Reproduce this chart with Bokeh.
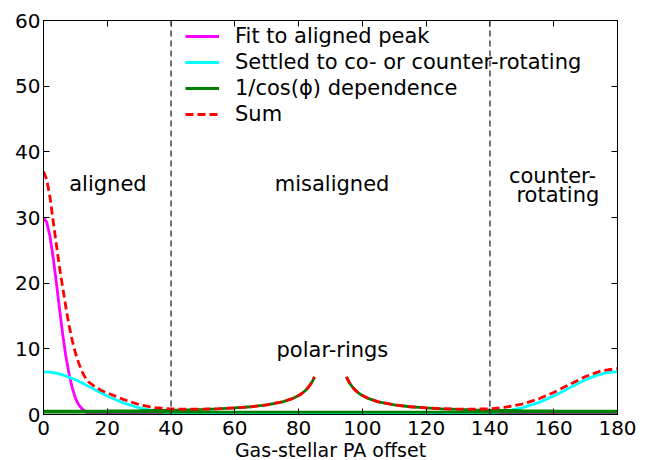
from bokeh.plotting import figure
from bokeh.models import (Range1d, LinearAxis, Span, Label, Legend, LegendItem,
                          FixedTicker)
from bokeh.embed import file_html
from bokeh.resources import INLINE

# ---- data ----
x_ticks = [0, 20, 40, 60, 80, 100, 120, 140, 160, 180]
y_ticks = [0, 10, 20, 30, 40, 50, 60]
region_bounds = [40, 140]

mag_x = [0, 1, 2, 3, 4, 5, 6, 7, 8, 9, 10, 11, 12, 13, 14, 15, 16, 18, 20, 180]
mag_y = [30.0, 29.3, 27.2, 24.0, 20.2, 16.2, 12.3, 8.9, 6.2, 4.1, 2.5, 1.5, 0.9,
         0.5, 0.2, 0.1, 0.05, 0.01, 0.0, 0.0]

cyan_x = [0, 2, 4, 6, 8, 10, 12, 14, 16, 18, 20, 25, 30, 35, 40, 45, 50, 55, 60,
          120, 125, 130, 135, 140, 145, 150, 155, 160, 162, 164, 166, 168, 170,
          172, 174, 176, 178, 180]
cyan_y = [6.5, 6.45, 6.29, 6.03, 5.69, 5.28, 4.82, 4.32, 3.81, 3.31, 2.83, 1.77,
          1.0, 0.51, 0.23, 0.1, 0.04, 0.01, 0.0,
          0.0, 0.01, 0.04, 0.1, 0.23, 0.51, 1.0, 1.77, 2.83, 3.31, 3.81, 4.32,
          4.82, 5.28, 5.69, 6.03, 6.29, 6.45, 6.5]

cos_x1 = [0, 10, 20, 30, 40, 45, 50, 55, 60, 65, 70, 75, 78, 80, 81, 82, 83, 84,
          84.5, 85]
cos_y1 = [0.5, 0.51, 0.53, 0.58, 0.65, 0.71, 0.78, 0.87, 1.0, 1.18, 1.46, 1.93,
          2.41, 2.88, 3.20, 3.59, 4.11, 4.78, 5.22, 5.74]
cos_x2 = [95, 95.5, 96, 97, 98, 99, 100, 102, 105, 110, 115, 120, 125, 130, 135,
          140, 150, 160, 170, 180]
cos_y2 = [5.74, 5.22, 4.78, 4.11, 3.59, 3.20, 2.88, 2.41, 1.93, 1.46, 1.18, 1.0,
          0.87, 0.78, 0.71, 0.65, 0.58, 0.53, 0.51, 0.5]
base_x = [0, 180]
base_y = [0.35, 0.35]

sum_x1 = [0, 1, 2, 3, 4, 5, 6, 7, 8, 9, 10, 11, 12, 13, 14, 16, 18, 20, 25, 30,
          35, 40, 45, 50, 55, 60, 65, 70, 75, 78, 80, 81, 82, 83, 84, 85]
sum_y1 = [37.0, 35.8, 33.2, 29.6, 26.0, 22.5, 19.4, 16.4, 13.6, 11.3, 9.4, 7.9,
          6.6, 5.7, 5.0, 4.3, 3.7, 3.3, 2.3, 1.5, 1.05, 0.85, 0.8, 0.82, 0.88,
          1.0, 1.18, 1.46, 1.93, 2.41, 2.88, 3.20, 3.59, 4.11, 4.78, 5.74]
sum_x2 = [95, 96, 97, 98, 99, 100, 102, 105, 110, 115, 120, 125, 130, 135, 140,
          145, 150, 155, 160, 165, 170, 175, 180]
sum_y2 = [5.74, 4.78, 4.11, 3.59, 3.20, 2.88, 2.41, 1.93, 1.46, 1.18, 1.0, 0.88,
          0.82, 0.81, 0.88, 1.12, 1.58, 2.32, 3.36, 4.59, 5.79, 6.67, 7.0]

legend_labels = ["Fit to aligned peak", "Settled to co- or counter-rotating",
                 "1/cos(\u03d5) dependence", "Sum"]
x_title = "Gas-stellar PA offset"
FONT = "DejaVu Sans"
LW = 2.8

p = figure(frame_width=574, frame_height=394,
           x_range=Range1d(0, 180), y_range=Range1d(0, 60),
           output_backend="svg", toolbar_location=None,
           min_border_left=43, min_border_right=33, min_border_top=20,
           min_border_bottom=46)
p.background_fill_color = "white"
p.border_fill_color = "white"
p.outline_line_color = "black"
p.outline_line_width = 1
p.xgrid.visible = False
p.ygrid.visible = False

def style_axis(ax, show_labels):
    ax.axis_line_color = "black"
    ax.major_tick_in = 6
    ax.major_tick_out = 0
    ax.minor_tick_line_color = None
    ax.major_tick_line_color = "black"
    ax.major_label_text_font = FONT
    ax.major_label_text_font_size = "20px"
    ax.major_label_text_color = "black"
    ax.major_label_standoff = 3
    if not show_labels:
        ax.major_label_text_font_size = "0px"
        ax.major_label_text_alpha = 0
        ax.major_label_standoff = 0

p.xaxis.ticker = FixedTicker(ticks=x_ticks)
p.yaxis.ticker = FixedTicker(ticks=y_ticks)
style_axis(p.xaxis[0], True)
style_axis(p.yaxis[0], True)
p.xaxis[0].major_label_standoff = 6
p.xaxis.axis_label = x_title
p.xaxis.axis_label_text_font = FONT
p.xaxis.axis_label_text_font_size = "19px"
p.xaxis.axis_label_text_font_style = "normal"
p.xaxis.axis_label_text_color = "black"
p.xaxis.axis_label_standoff = 1

top_ax = LinearAxis(ticker=FixedTicker(ticks=x_ticks))
style_axis(top_ax, False)
p.add_layout(top_ax, "above")
right_ax = LinearAxis(ticker=FixedTicker(ticks=y_ticks))
style_axis(right_ax, False)
p.add_layout(right_ax, "right")

for xb in region_bounds:
    p.add_layout(Span(location=xb, dimension="height", line_color="#444444",
                      line_width=1.5, line_dash="6 4"))

r_mag = p.line(mag_x, mag_y, line_color="#ff00ff", line_width=LW)
r_cyan = p.line(cyan_x, cyan_y, line_color="#00ffff", line_width=LW)
r_base = p.line(base_x, base_y, line_color="#008000", line_width=LW)
r_cos1 = p.line(cos_x1, cos_y1, line_color="#008000", line_width=LW)
r_cos2 = p.line(cos_x2, cos_y2, line_color="#008000", line_width=LW)
r_sum1 = p.line(sum_x1, sum_y1, line_color="#ff0000", line_width=LW, line_dash="8 4")
r_sum2 = p.line(sum_x2, sum_y2, line_color="#ff0000", line_width=LW, line_dash="8 4")

legend = Legend(items=[LegendItem(label=legend_labels[0], renderers=[r_mag]),
                       LegendItem(label=legend_labels[1], renderers=[r_cyan]),
                       LegendItem(label=legend_labels[2], renderers=[r_cos1]),
                       LegendItem(label=legend_labels[3], renderers=[r_sum1])],
                location=(142, 287))
legend.background_fill_alpha = 0
legend.border_line_alpha = 0
legend.label_text_font = FONT
legend.label_text_font_size = "21px"
legend.label_text_color = "black"
legend.glyph_width = 34
legend.glyph_height = 26
legend.label_height = 26
legend.label_standoff = 16
legend.spacing = 0
legend.padding = 0
legend.margin = 0
p.add_layout(legend)

def add_label(x, y, txt, size="21px"):
    p.add_layout(Label(x=x, y=y, text=txt, text_align="center",
                       text_baseline="alphabetic", text_font=FONT,
                       text_font_size=size, text_color="black"))

add_label(20.2, 35.15, "aligned")
add_label(90.5, 35.15, "misaligned")
add_label(159.6, 36.35, "counter-")
add_label(161.3, 33.5, "rotating")
add_label(90.6, 9.85, "polar-rings")

open("out.html", "w").write(file_html(p, INLINE))
